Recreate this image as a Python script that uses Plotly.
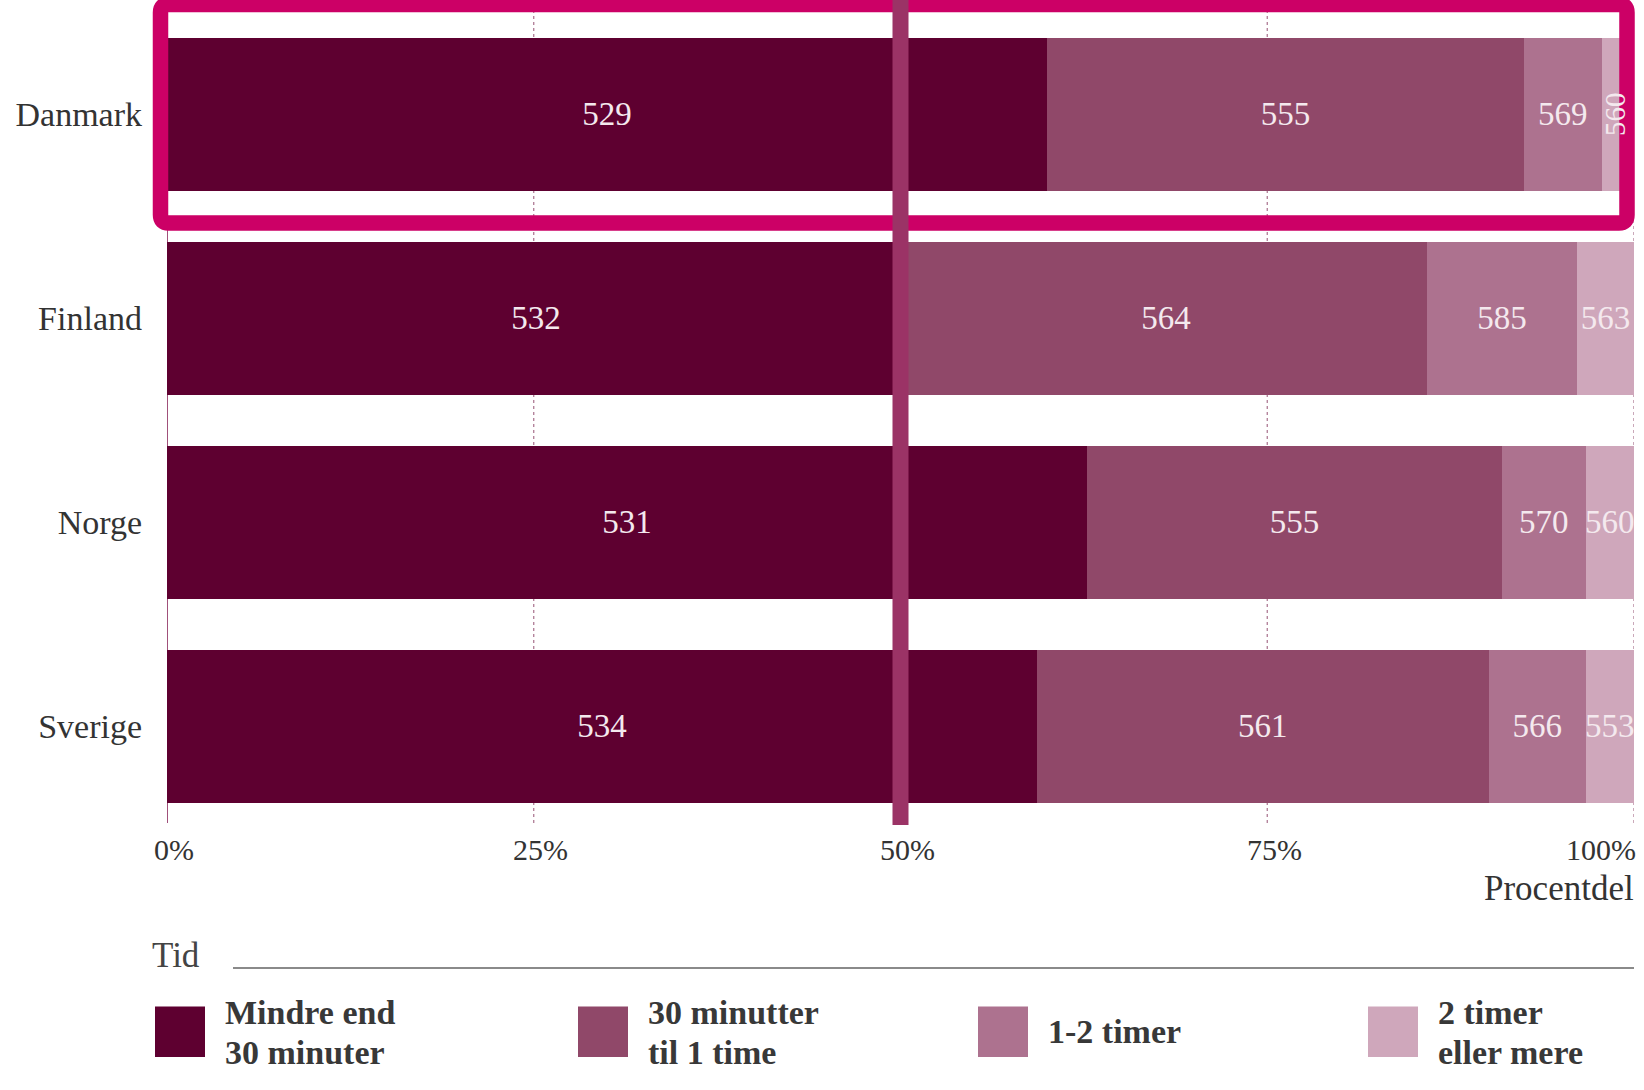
import plotly.graph_objects as go

categories = ["Danmark", "Finland", "Norge", "Sverige"]
series_names = ["Mindre end<br>30 minuter", "30 minutter<br>til 1 time", "1-2 timer", "2 timer<br>eller mere"]
series_colors = ["#5e0030", "#904869", "#ad728f", "#cfa7bb"]

pct_lt30 = [60.0, 50.3, 62.7, 59.3]
pct_30_60 = [32.5, 35.6, 28.3, 30.8]
pct_1_2 = [5.3, 10.2, 5.7, 6.6]
pct_2plus = [2.2, 3.9, 3.3, 3.3]

score_lt30 = [529, 532, 531, 534]
score_30_60 = [555, 564, 555, 561]
score_1_2 = [569, 585, 570, 566]
score_2plus = [560, 563, 560, 553]

tick_vals = [0, 25, 50, 75, 100]
tick_text = ["0%", "25%", "50%", "75%", "100%"]

FONT = "Liberation Serif"
W, H = 1644, 1090
# plot area in page pixels
PL, PR, PT, PB = 167, 1634, 12, 803
L, T, R, B = PL, PT, W - PR, H - PB
PW, PH = PR - PL, PB - PT


def X(px):
    return (px - PL) / PW


def Y(py):
    return (PB - py) / PH


pcts = [pct_lt30, pct_30_60, pct_1_2, pct_2plus]
scores = [score_lt30, score_30_60, score_1_2, score_2plus]

fig = go.Figure()
for i in range(4):
    txt = [str(s) for s in scores[i]]
    if i == 3:
        txt[0] = ""
    fig.add_trace(go.Bar(
        y=categories, x=pcts[i], orientation="h",
        name=series_names[i].replace("<br>", " "),
        marker=dict(color=series_colors[i], line=dict(width=0)),
        text=txt, textposition="inside", insidetextanchor="middle",
        textangle=0, constraintext="none",
        textfont=dict(family=FONT, size=33, color="#f4e9ee"),
        showlegend=False, hoverinfo="skip",
    ))

# rotated label for the narrow Danmark segment
fig.add_annotation(
    x=100 - pct_2plus[0] / 2, y=categories[0], xref="x", yref="y",
    text=str(score_2plus[0]), textangle=-90, showarrow=False, xshift=-3,
    font=dict(family=FONT, size=29, color="#f4e9ee"),
)

fig.update_layout(
    width=W, height=H,
    margin=dict(l=L, r=R, t=T, b=B, autoexpand=False),
    paper_bgcolor="white", plot_bgcolor="white",
    barmode="stack", bargap=0.25,
    font=dict(family=FONT, color="#333333"),
    xaxis=dict(
        range=[0, 100], showticklabels=False, ticks="",
        showgrid=False, zeroline=False, showline=False, fixedrange=True,
    ),
    yaxis=dict(
        categoryorder="array", categoryarray=categories,
        range=[3.375, -0.5], ticks="", ticklabelstandoff=24,
        tickfont=dict(family=FONT, size=34, color="#333333"),
        showline=False, showgrid=False, zeroline=False, fixedrange=True,
    ),
)

# gridlines / ticks (dotted, extending below the plot like ticks); solid at 0
for v in tick_vals:
    if v == 0:
        fig.add_shape(type="line", x0=v, x1=v, y0=Y(823), y1=1, xref="x", yref="paper",
                      line=dict(color="#a0507a", width=2), layer="below")
    elif v != 50:
        fig.add_shape(type="line", x0=v, x1=v, y0=Y(823), y1=1, xref="x", yref="paper",
                      line=dict(color="#a8708c", width=1.2, dash="dot"), layer="below")

# x tick labels
for v, t in zip(tick_vals, tick_text):
    if v == 100:
        fig.add_annotation(x=v, y=Y(849), xref="x", yref="paper", text=t,
                           xanchor="right", yanchor="middle", xshift=4, showarrow=False,
                           font=dict(family=FONT, size=30, color="#333333"))
    else:
        fig.add_annotation(x=v, y=Y(849), xref="x", yref="paper", text=t,
                           xanchor="center", yanchor="middle", xshift=7, showarrow=False,
                           font=dict(family=FONT, size=30, color="#333333"))

fig.add_annotation(x=X(1636), y=Y(888), xref="paper", yref="paper", text="Procentdel",
                   xanchor="right", yanchor="middle", showarrow=False,
                   font=dict(family=FONT, size=35, color="#333333"))

# highlight rectangle around Danmark (rounded corners)
lx, rx, ty, by, rr = 160.5, 1627, 4.5, 223, 8
path = (f"M {X(lx + rr)},{Y(ty)} L {X(rx - rr)},{Y(ty)} Q {X(rx)},{Y(ty)} {X(rx)},{Y(ty + rr)} "
        f"L {X(rx)},{Y(by - rr)} Q {X(rx)},{Y(by)} {X(rx - rr)},{Y(by)} "
        f"L {X(lx + rr)},{Y(by)} Q {X(lx)},{Y(by)} {X(lx)},{Y(by - rr)} "
        f"L {X(lx)},{Y(ty + rr)} Q {X(lx)},{Y(ty)} {X(lx + rr)},{Y(ty)} Z")
fig.add_shape(type="path", path=path, xref="paper", yref="paper",
              line=dict(color="#cc0066", width=15.5), fillcolor="rgba(0,0,0,0)", layer="above")

# 50% reference line
fig.add_shape(type="line", x0=50, x1=50, y0=Y(825), y1=Y(-5), xref="x", yref="paper",
              line=dict(color="#9b3366", width=16), layer="above")

# legend
fig.add_annotation(x=X(150), y=Y(956), xref="paper", yref="paper", text="Tid",
                   xanchor="left", yanchor="middle", showarrow=False,
                   font=dict(family=FONT, size=35, color="#444444"))
fig.add_shape(type="line", x0=X(233), x1=X(1634), y0=Y(968), y1=Y(968),
              xref="paper", yref="paper", line=dict(color="#8a8a8a", width=2))

entry_x = [155, 578, 978, 1368]
for ex, name, col in zip(entry_x, series_names, series_colors):
    fig.add_shape(type="rect", x0=X(ex), x1=X(ex + 50), y0=Y(1057), y1=Y(1006.5),
                  xref="paper", yref="paper", fillcolor=col, line=dict(width=0))
    lines = name.split("<br>")
    ys = [1031] if len(lines) == 1 else [1012, 1052]
    for ln, yy in zip(lines, ys):
        fig.add_annotation(x=X(ex + 68), y=Y(yy), xref="paper", yref="paper",
                           text=f"<b>{ln}</b>", xanchor="left", yanchor="middle",
                           align="left", showarrow=False,
                           font=dict(family=FONT, size=34, color="#383838"))

fig.write_html("out.html", config={"displayModeBar": False},
               post_script="document.body.style.margin='0';")
